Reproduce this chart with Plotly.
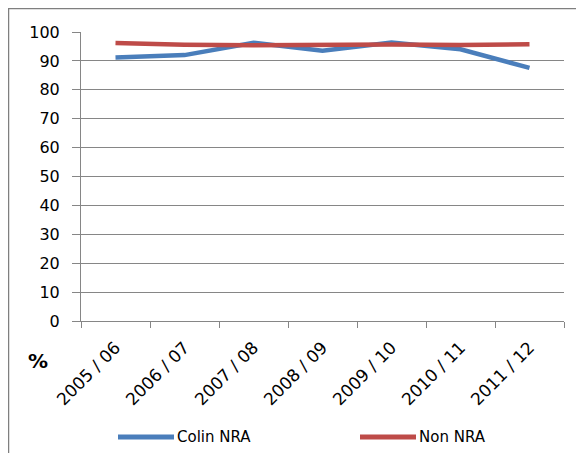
import plotly.graph_objects as go

categories = ["2005 / 06", "2006 / 07", "2007 / 08", "2008 / 09", "2009 / 10", "2010 / 11", "2011 / 12"]
colin_nra = [91.2, 92.0, 96.3, 93.5, 96.4, 94.0, 87.6]
non_nra = [96.2, 95.6, 95.4, 95.6, 95.7, 95.5, 95.8]
y_ticks = list(range(0, 101, 10))
series_names = ["Colin NRA", "Non NRA"]
series_colors = ["#4A7EBB", "#BE4B48"]

OFF = 8  # page body margin
W, H = 584, 453
L, T = 81 - OFF, 32 - OFF
R = W - (564 - OFF)
B = H - (321 - OFF)
PW, PH = W - L - R, H - T - B


def px_x(x):
    return (x - OFF - L) / PW


def px_y(y):
    return (H - B - (y - OFF)) / PH


fig = go.Figure()
for name, vals, col in zip(series_names, [colin_nra, non_nra], series_colors):
    fig.add_trace(go.Scatter(x=categories, y=vals, mode="lines", name=name,
                             line=dict(color=col, width=4.5), showlegend=False))

font_family = "DejaVu Sans, Verdana, sans-serif"
fig.update_layout(
    width=W, height=H,
    margin=dict(l=L, r=R, t=T, b=B, autoexpand=False),
    paper_bgcolor="white", plot_bgcolor="white",
    font=dict(family=font_family, size=15, color="black"),
    showlegend=False,
    xaxis=dict(type="category", tickangle=-45, tickson="boundaries", ticks="outside",
               ticklen=6, tickcolor="#868686", showline=True, linecolor="#868686",
               showgrid=False, tickfont=dict(size=17), range=[-0.5, 6.5], automargin=False,
               ticklabelstandoff=9),
    yaxis=dict(range=[0, 100], tickvals=y_ticks, ticks="outside", ticklen=8,
               tickcolor="#868686", showline=True, linecolor="#868686",
               showgrid=True, gridcolor="#868686", gridwidth=1, zeroline=False,
               tickfont=dict(size=16), automargin=False, ticklabelstandoff=9),
)
# chart border
fig.add_shape(type="rect", xref="paper", yref="paper", x0=px_x(8.5), x1=px_x(700),
              y0=px_y(600), y1=px_y(8.5), line=dict(color="#7f7f7f", width=1.5), layer="below")
# "%" label
fig.add_annotation(text="<b>%</b>", xref="paper", yref="paper", x=px_x(38),
                   y=px_y(361), showarrow=False, font=dict(size=20),
                   xanchor="center", yanchor="middle")
# legend
legend_starts = [118, 360]
for name, col, x0 in zip(series_names, series_colors, legend_starts):
    fig.add_shape(type="line", xref="paper", yref="paper", x0=px_x(x0), x1=px_x(x0 + 56),
                  y0=px_y(437), y1=px_y(437), line=dict(color=col, width=5))
    fig.add_annotation(text=name, xref="paper", yref="paper", x=px_x(x0 + 59),
                       y=px_y(437), showarrow=False, font=dict(size=15),
                       xanchor="left", yanchor="middle", xshift=-2)
fig.write_html("out.html")
